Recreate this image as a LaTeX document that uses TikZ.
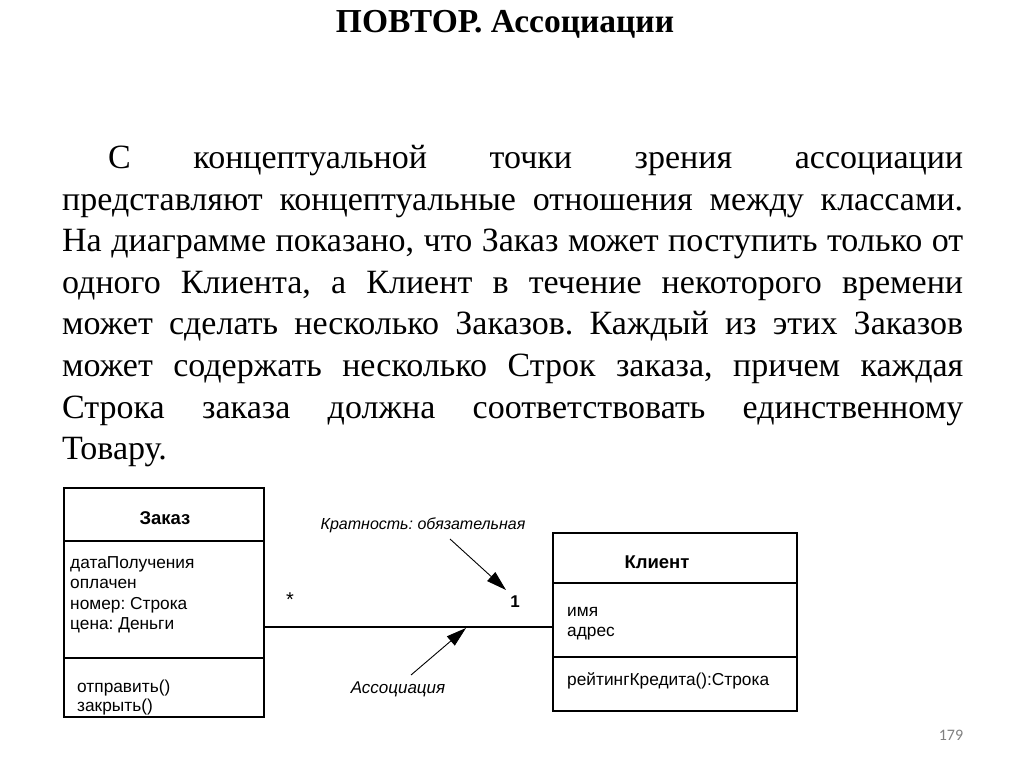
\documentclass[tikz,border=0pt]{standalone}
\usepackage{fontspec}
\setmainfont{Liberation Serif}
\newfontfamily\diagfont{Liberation Sans}
\newfontfamily\pgnumfont{Carlito}
\usetikzlibrary{arrows.meta}
\frenchspacing
\tikzset{
  classbox/.style={draw=black, line width=1.4pt, inner sep=0pt},
  divider/.style={draw=black, line width=1.3pt},
  classname/.style={font=\diagfont\bfseries\fontsize{18.5}{21}\selectfont, inner sep=0pt},
  member/.style={font=\diagfont\fontsize{17.3}{20}\selectfont, inner sep=0pt, anchor=west, text height=12pt, text depth=3.8pt},
  note/.style={font=\diagfont\itshape\fontsize{16}{19}\selectfont, inner sep=0pt},
  mult/.style={font=\diagfont\bfseries\fontsize{17}{19}\selectfont, inner sep=0pt},
  assocline/.style={draw=black, line width=1.2pt},
  pointer/.style={draw=black, line width=0.9pt, -{Triangle[length=20pt,width=12pt]}},
}
\begin{document}
\begin{tikzpicture}[x=1pt,y=-1pt]
\useasboundingbox (0,0) rectangle (1024,767);
\fill[white] (0,0) rectangle (1024,767);

% title
\node[anchor=base, inner sep=0pt, font=\bfseries\fontsize{33.5}{38}\selectfont] (title) at (505,33) {ПОВТОР. Ассоциации};

% body text
\node[anchor=base west, inner sep=0pt, text width=901pt, align=justify,
      font=\fontsize{34}{41.5}\selectfont] (body) at (62,169)
{\hspace*{46pt}С концептуальной точки зрения ассоциации\linebreak
представляют концептуальные отношения между классами.\linebreak
На диаграмме показано, что Заказ может поступить только от\linebreak
одного Клиента, а Клиент в течение некоторого времени\linebreak
может сделать несколько Заказов. Каждый из этих Заказов\linebreak
может содержать несколько Строк заказа, причем каждая\linebreak
Строка заказа должна соответствовать единственному\linebreak
Товару.};

% class Заказ
\node[classbox, minimum width=200pt, minimum height=229pt] (zakaz) at (164,602.5) {};
\draw[divider] (64,541) -- (264,541);
\draw[divider] (64,658) -- (264,658);
\node[classname] (zakazname) at (165,518) {Заказ};
\node[member] (a1) at (70,564) {датаПолучения};
\node[member] (a2) at (70,584.5) {оплачен};
\node[member] (a3) at (70,605) {номер: Строка};
\node[member] (a4) at (70,625.5) {цена: Деньги};
\node[member] (m1) at (77,688) {отправить()};
\node[member] (m2) at (77,707) {закрыть()};

% class Клиент
\node[classbox, minimum width=244pt, minimum height=178pt] (klient) at (675,622) {};
\draw[divider] (553,583) -- (797,583);
\draw[divider] (553,657) -- (797,657);
\node[classname] (klientname) at (657,562) {Клиент};
\node[member] (b1) at (567,612) {имя};
\node[member] (b2) at (567,632) {адрес};
\node[member] (c1) at (567,681) {рейтингКредита():Строка};

% association
\coordinate (assocy) at (0,627);
\draw[assocline] (zakaz.east |- assocy) -- (klient.west |- assocy);
\node[font=\diagfont\fontsize{20}{20}\selectfont, inner sep=0pt] (star) at (290,600) {*};
\node[mult] (one) at (515,602) {1};

% notes
\node[note] (krat) at (423,525) {Кратность: обязательная};
\coordinate (kratfrom) at (450,539);
\coordinate (kratto) at (506,590);
\draw[pointer] (kratfrom) -- (kratto);

\node[note, font=\diagfont\itshape\fontsize{17}{19}\selectfont] (assoc) at (398,689) {Ассоциация};
\coordinate (assocfrom) at (411,675);
\coordinate (assocto) at (466,628);
\draw[pointer] (assocfrom) -- (assocto);

% page number
\node[font=\pgnumfont\fontsize{16}{18}\selectfont, text=black!50, inner sep=0pt] (pg) at (951,735) {179};
\end{tikzpicture}
\end{document}
